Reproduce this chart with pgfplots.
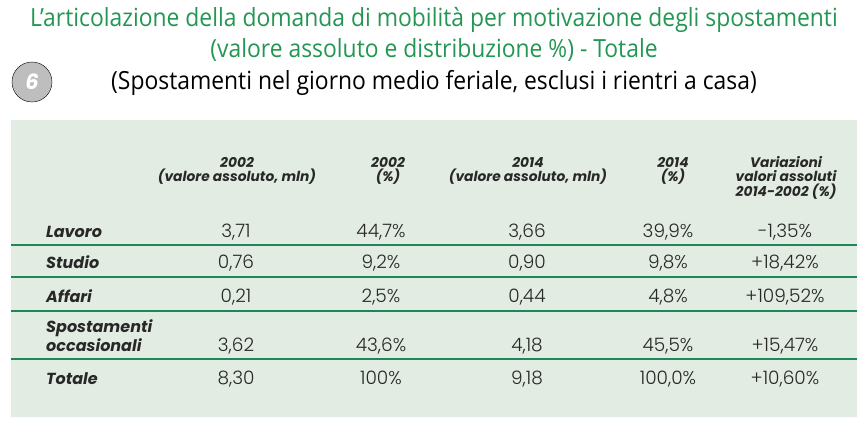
\documentclass[border=0pt]{standalone}
\usepackage{fontspec}
\setmainfont{Poppins}
\newfontfamily\lightfont{Poppins Light}
\newfontfamily\titlefont[FakeStretch=0.915]{Open Sans}
\usepackage{pgfplots}
\pgfplotsset{compat=1.18}
\definecolor{ttl}{RGB}{34,150,82}
\definecolor{bgc}{RGB}{226,236,226}
\definecolor{lnc}{RGB}{30,135,85}
\definecolor{circ}{RGB}{190,190,190}
\definecolor{txt}{RGB}{40,40,40}
\pgfplotsset{
  txt/.style={only marks, mark=*, mark size=0pt, mark options={draw=none,fill=none},
    nodes near coords, point meta=explicit symbolic,
    nodes near coords style={anchor=base, inner sep=0pt, text=txt, #1}},
}
\begin{document}
\begin{tikzpicture}
\begin{axis}[width=867pt,height=426pt,scale only axis,
  xmin=0,xmax=867,ymin=0,ymax=426,y dir=reverse,
  hide axis,clip=false]
\coordinate (BL) at (axis cs:0,426);
\coordinate (TR) at (axis cs:867,0);
% background
\addplot[fill=bgc,draw=none] coordinates {(11,120)(857,120)(857,417)(11,417)(11,120)};
% separators
\addplot[lnc,line width=1.1pt] coordinates {(11,245)(857,245)};
\addplot[lnc,line width=1.1pt] coordinates {(11,277)(857,277)};
\addplot[lnc,line width=1.1pt] coordinates {(11,311)(857,311)};
\addplot[lnc,line width=1.1pt] coordinates {(11,359)(857,359)};
% circle badge
\addplot[only marks, mark=*, mark size=20pt, mark options={draw=none,fill=circ},
  nodes near coords, point meta=explicit symbolic,
  nodes near coords style={anchor=center, inner sep=0pt, text=white, font=\fontsize{21}{21}\selectfont\bfseries\itshape}]
  coordinates {(32,82) [6]};
% titles
\addplot[txt={text=ttl, font=\titlefont\fontsize{25}{25}\selectfont}] coordinates {
  (434,26) [L’articolazione della domanda di mobilità per motivazione degli spostamenti]
  (434,57) [(valore assoluto e distribuzione \%) - Totale]
};
\addplot[txt={text=black, font=\titlefont\fontsize{25}{25}\selectfont}] coordinates {
  (434,89) [(Spostamenti nel giorno medio feriale, esclusi i rientri a casa)]
};
% headers
\addplot[txt={font=\fontsize{13.8}{13.8}\selectfont\bfseries\itshape}] coordinates {
  (237,167) [2002] (237,181) [(valore assoluto, mln)]
  (388,167) [2002] (388,181) [(\%)]
  (528,167) [2014] (528,181) [(valore assoluto, mln)]
  (673,167) [2014] (673,181) [(\%)]
  (786,167) [Variazioni] (786,181) [valori assoluti] (786,196) [2014-2002 (\%)]
};
% row labels
\addplot[txt={anchor=base west, font=\fontsize{16}{16}\selectfont\bfseries\itshape}] coordinates {
  (46,237) [Lavoro] (46,268) [Studio] (46,302) [Affari]
  (46,332) [Spostamenti] (46,351) [occasionali] (46,384) [Totale]
};
% values
\addplot[txt={font=\lightfont\fontsize{18.5}{18.5}\selectfont}] coordinates {
  (236,237) [3,71] (236,268) [0,76] (236,302) [0,21] (236,351) [3,62] (236,384) [8,30]
};
\addplot[txt={font=\lightfont\fontsize{18.5}{18.5}\selectfont}] coordinates {
  (381,237) [44,7\%] (381,268) [9,2\%] (381,302) [2,5\%] (381,351) [43,6\%] (381,384) [100\%]
};
\addplot[txt={font=\lightfont\fontsize{18.5}{18.5}\selectfont}] coordinates {
  (527,237) [3,66] (527,268) [0,90] (527,302) [0,44] (527,351) [4,18] (527,384) [9,18]
};
\addplot[txt={font=\lightfont\fontsize{18.5}{18.5}\selectfont}] coordinates {
  (668,237) [39,9\%] (668,268) [9,8\%] (668,302) [4,8\%] (668,351) [45,5\%] (668,384) [100,0\%]
};
\addplot[txt={font=\lightfont\fontsize{18.5}{18.5}\selectfont}] coordinates {
  (785,237) [-1,35\%] (785,268) [+18,42\%] (785,302) [+109,52\%] (785,351) [+15,47\%] (785,384) [+10,60\%]
};
\end{axis}
\pgfresetboundingbox
\path (BL) rectangle (TR);
\end{tikzpicture}
\end{document}
